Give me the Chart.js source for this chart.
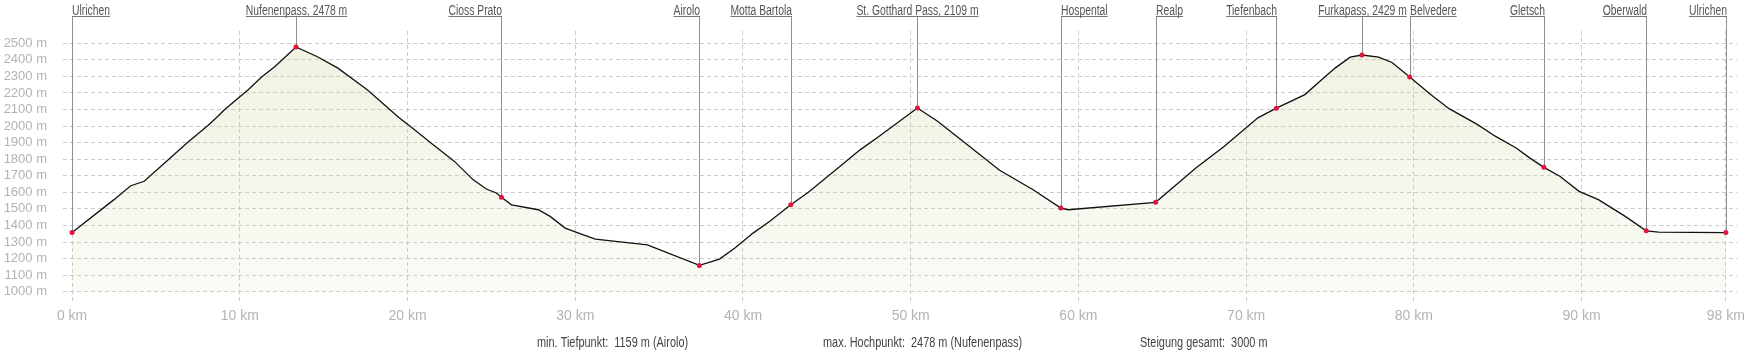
<!DOCTYPE html>
<html>
<head>
<meta charset="utf-8">
<script src="https://cdn.jsdelivr.net/npm/chart.js@4.4.1/dist/chart.umd.min.js"></script>
<style>
  html, body { margin: 0; padding: 0; background: #fff; }
  #profile { display: block; }
</style>
</head>
<body>
<canvas id="profile" width="1750" height="353"></canvas>
<script>
/* ------------------------------------------------------------------
   Höhenprofil-Daten (km / m)
------------------------------------------------------------------ */
var distKm = [0, 2.5, 3.5, 4.3, 5.3, 6.9, 8.1, 8.6, 9.1, 10.5, 11.3, 12.1, 13.35, 14.6, 15.85, 17.6,
    19.5, 20.1, 21.4, 22.8, 23.9, 24.7, 25.3, 25.6, 26.2, 27.8, 28.5, 29.4, 30.2, 31.2, 34.3, 37.4,
    38.6, 39.5, 40.6, 41.6, 42.85, 43.9, 45.9, 47.0, 48.0, 50.4, 51.6, 53.0, 55.3, 57.3, 58.95, 59.4,
    64.6, 65.9, 67.0, 68.7, 70.7, 71.8, 73.5, 74.4, 75.3, 76.2, 76.9, 77.9, 78.7, 79.75, 81.0, 82.1,
    83.8, 84.85, 86.1, 86.9, 87.75, 88.7, 89.85, 91.0, 92.6, 93.85, 94.6, 98.6];

var elevM = [1357, 1556, 1640, 1667, 1757, 1902, 2003, 2050, 2100, 2220, 2296, 2360, 2478, 2420, 2350, 2220,
    2050, 2003, 1898, 1787, 1677, 1620, 1596, 1570, 1525, 1495, 1455, 1384, 1354, 1318, 1283, 1159,
    1197, 1263, 1354, 1425, 1525, 1600, 1767, 1858, 1929, 2109, 2029, 1918, 1733, 1616, 1505, 1495,
    1540, 1652, 1747, 1878, 2050, 2108, 2190, 2270, 2350, 2416, 2429, 2416, 2384, 2296, 2190, 2105,
    2009, 1939, 1868, 1808, 1751, 1697, 1606, 1556, 1455, 1368, 1360, 1357];

// Wegpunkte
var wpNames = ['Ulrichen', 'Nufenenpass, 2478 m', 'Cioss Prato', 'Airolo', 'Motta Bartola',
    'St. Gotthard Pass, 2109 m', 'Hospental', 'Realp', 'Tiefenbach', 'Furkapass, 2429 m',
    'Belvedere', 'Gletsch', 'Oberwald', 'Ulrichen'];
var wpKm    = [0, 13.35, 25.6, 37.4, 42.85, 50.4, 58.95, 64.6, 71.8, 76.9, 79.75, 87.75, 93.85, 98.6];
var wpElev  = [1357, 2478, 1570, 1159, 1525, 2109, 1505, 1540, 2108, 2429, 2296, 1751, 1368, 1357];
var wpAlign = ['left', 'center', 'right', 'right', 'right', 'center', 'left', 'left', 'right',
    'center', 'left', 'right', 'right', 'right'];

// Achsen
var xTickKm     = [0, 10, 20, 30, 40, 50, 60, 70, 80, 90, 98.6];
var xTickLabels = ['0 km', '10 km', '20 km', '30 km', '40 km', '50 km', '60 km', '70 km', '80 km', '90 km', '98 km'];
var yTicksM     = [1000, 1100, 1200, 1300, 1400, 1500, 1600, 1700, 1800, 1900, 2000, 2100, 2200, 2300, 2400, 2500];

// Kennzahlen unten
var summaryTexts = ['min. Tiefpunkt:  1159 m (Airolo)', 'max. Hochpunkt:  2478 m (Nufenenpass)', 'Steigung gesamt:  3000 m'];

(function () {
    'use strict';

    var textFont  = "'Liberation Sans', Arial, sans-serif";
    var gridColor = '#cbcbcb';

    var profile = distKm.map(function (k, i) { return { x: k, y: elevM[i] }; });
    var points  = wpKm.map(function (k, i) { return { x: k, y: wpElev[i] }; });

    // Schmalschrift simulieren: Text horizontal gestaucht zeichnen
    function narrowText(ctx, text, x, y, sx) {
        ctx.save();
        ctx.translate(x, y);
        ctx.scale(sx, 1);
        ctx.fillText(text, 0, 0);
        ctx.restore();
    }

    /* ------------------------------------------------------------------
       Plugin: Wegpunkt-Linien + Beschriftungen
    ------------------------------------------------------------------ */
    var waypointPlugin = {
        id: 'waypoints',
        beforeDatasetsDraw: function (chart) {
            var ctx = chart.ctx, xs = chart.scales.x, ys = chart.scales.y;
            var sx = 0.74;
            ctx.save();
            ctx.font = '14px ' + textFont;
            ctx.textBaseline = 'alphabetic';
            ctx.textAlign = 'left';
            wpNames.forEach(function (name, i) {
                var px = Math.round(xs.getPixelForValue(wpKm[i])) + 0.5;
                var py = ys.getPixelForValue(wpElev[i]);
                var w  = ctx.measureText(name).width * sx;
                var x0 = wpAlign[i] === 'left' ? px - 0.5 : (wpAlign[i] === 'right' ? px + 0.5 - w : px - w / 2);

                ctx.strokeStyle = '#8f8f8f';
                ctx.lineWidth = 1;
                ctx.beginPath();
                ctx.moveTo(px, 16.5);
                ctx.lineTo(px, py);
                ctx.stroke();

                ctx.strokeStyle = '#777';
                ctx.beginPath();
                ctx.moveTo(x0, 16.5);
                ctx.lineTo(x0 + w, 16.5);
                ctx.stroke();

                ctx.fillStyle = '#555';
                narrowText(ctx, name, x0, 14.5, sx);
            });
            ctx.restore();
        },
        afterDraw: function (chart) {
            var ctx = chart.ctx;
            var xs = [537, 823, 1140];
            ctx.save();
            ctx.font = '14px ' + textFont;
            ctx.fillStyle = '#444';
            ctx.textAlign = 'left';
            ctx.textBaseline = 'alphabetic';
            summaryTexts.forEach(function (t, i) { narrowText(ctx, t, xs[i], 347, 0.78); });
            ctx.restore();
        }
    };

    var ctx = document.getElementById('profile').getContext('2d');
    var grad = ctx.createLinearGradient(0, 40, 0, 292);
    grad.addColorStop(0, 'rgba(205, 212, 160, 0.30)');
    grad.addColorStop(1, 'rgba(205, 212, 160, 0.10)');

    new Chart(ctx, {
        type: 'line',
        data: {
            datasets: [
                {
                    data: points,
                    showLine: false,
                    pointRadius: 2.5,
                    pointBackgroundColor: '#e0143e',
                    pointBorderWidth: 0,
                    order: 0
                },
                {
                    data: profile,
                    borderColor: '#111',
                    borderWidth: 1.3,
                    pointRadius: 0,
                    tension: 0,
                    fill: { value: 1000 },
                    backgroundColor: grad,
                    order: 1
                }
            ]
        },
        options: {
            responsive: false,
            animation: false,
            devicePixelRatio: 1,
            layout: { padding: { top: 31, right: 10, bottom: 30, left: 0 } },
            plugins: { legend: { display: false }, tooltip: { enabled: false } },
            scales: {
                x: {
                    type: 'linear',
                    min: -0.54,
                    max: 99.28,
                    afterBuildTicks: function (scale) {
                        scale.ticks = xTickKm.map(function (v) { return { value: v }; });
                    },
                    afterFit: function (scale) { scale.height = 20; },
                    grid: { color: gridColor, drawTicks: false },
                    border: { display: false, dash: [4, 3] },
                    ticks: {
                        autoSkip: false,
                        maxRotation: 0,
                        padding: 5,
                        color: '#b3b3b3',
                        font: { size: 14, family: textFont },
                        callback: function (v, i) { return xTickLabels[i]; }
                    }
                },
                y: {
                    min: 932,
                    max: 2574,
                    afterBuildTicks: function (scale) {
                        scale.ticks = yTicksM.map(function (v) { return { value: v }; });
                    },
                    afterFit: function (scale) { scale.width = 63; },
                    grid: { color: gridColor, drawTicks: false },
                    border: { display: false, dash: [4, 3] },
                    ticks: {
                        autoSkip: false,
                        padding: 16,
                        color: '#b3b3b3',
                        font: { size: 13, family: textFont },
                        callback: function (v) { return v + ' m'; }
                    }
                }
            }
        },
        plugins: [waypointPlugin]
    });
})();
</script>
</body>
</html>
